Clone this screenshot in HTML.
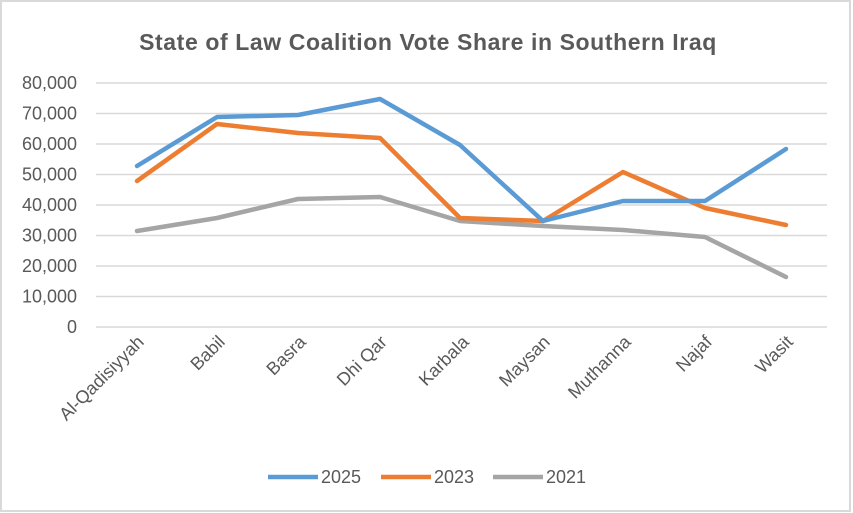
<!DOCTYPE html>
<html><head><meta charset="utf-8"><style>
body{margin:0;background:#fff}
svg{display:block;font-family:"Liberation Sans",sans-serif}
</style></head><body>
<svg width="853" height="513" viewBox="0 0 853 513">
<rect x="1" y="1" width="849" height="510" fill="#fff" stroke="#d9d9d9" stroke-width="2"/>
<text x="428" y="50" text-anchor="middle" font-size="23" font-weight="bold" fill="#595959" letter-spacing="0.6">State of Law Coalition  Vote Share in Southern Iraq</text>
<g stroke="#d9d9d9" stroke-width="1.5">
<line x1="96" x2="827" y1="83" y2="83"/><line x1="96" x2="827" y1="113.5" y2="113.5"/>
<line x1="96" x2="827" y1="144" y2="144"/><line x1="96" x2="827" y1="174.5" y2="174.5"/>
<line x1="96" x2="827" y1="205" y2="205"/><line x1="96" x2="827" y1="235.5" y2="235.5"/>
<line x1="96" x2="827" y1="266" y2="266"/><line x1="96" x2="827" y1="296.5" y2="296.5"/>
<line x1="96" x2="827" y1="327" y2="327"/>
</g>
<g font-size="18" fill="#595959" text-anchor="end">
<text x="77" y="89">80,000</text><text x="77" y="119.5">70,000</text><text x="77" y="150">60,000</text>
<text x="77" y="180.5">50,000</text><text x="77" y="211">40,000</text><text x="77" y="241.5">30,000</text>
<text x="77" y="272">20,000</text><text x="77" y="302.5">10,000</text><text x="77" y="333">0</text>
</g>
<g font-size="18" fill="#595959" text-anchor="end">
<text transform="translate(145,343) rotate(-45)">Al-Qadisiyyah</text>
<text transform="translate(226,343) rotate(-45)">Babil</text>
<text transform="translate(307,343) rotate(-45)">Basra</text>
<text transform="translate(388,343) rotate(-45)">Dhi Qar</text>
<text transform="translate(470,343) rotate(-45)">Karbala</text>
<text transform="translate(551,343) rotate(-45)">Maysan</text>
<text transform="translate(632,343) rotate(-45)">Muthanna</text>
<text transform="translate(713,343) rotate(-45)">Najaf</text>
<text transform="translate(794,343) rotate(-45)">Wasit</text>
</g>
<g fill="none" stroke-width="4.5" stroke-linejoin="round" stroke-linecap="round">
<polyline stroke="#a5a5a5" points="137,231 217,218 298,199 380,197 460,221 543,226 623,230 705,237 786,277"/>
<polyline stroke="#ed7d31" points="137,181 217,124 298,133 380,138 460,218 543,221 623,172 705,208 786,225"/>
<polyline stroke="#5b9bd5" points="137,166 217,117 298,115 380,99 460,145 543,221 623,201 705,201 786,149"/>
</g>
<g stroke-width="4.5">
<line x1="268" x2="318" y1="477" y2="477" stroke="#5b9bd5"/>
<line x1="381" x2="431" y1="477" y2="477" stroke="#ed7d31"/>
<line x1="493" x2="543" y1="477" y2="477" stroke="#a5a5a5"/>
</g>
<g font-size="18" fill="#595959">
<text x="321" y="483">2025</text><text x="434" y="483">2023</text><text x="546" y="483">2021</text>
</g>
</svg>
</body></html>
